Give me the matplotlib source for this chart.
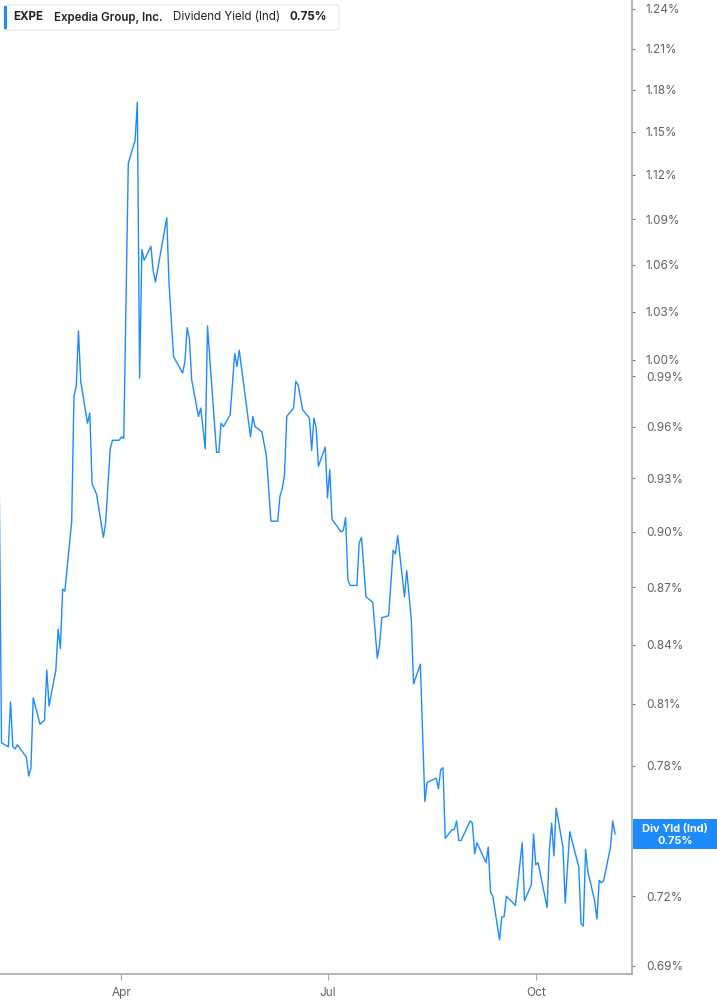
import pandas as pd
import matplotlib.pyplot as plt
from matplotlib.patches import FancyBboxPatch, Rectangle
from matplotlib.ticker import FixedLocator, NullLocator

plt.rcParams['font.family'] = ['Inter', 'DejaVu Sans']

# EXPE dividend yield (ind), %
dates = [
    '2025-02-06', '2025-02-07', '2025-02-10', '2025-02-11', '2025-02-12', '2025-02-13', '2025-02-14',
    '2025-02-18', '2025-02-19', '2025-02-20', '2025-02-21', '2025-02-24', '2025-02-26', '2025-02-27',
    '2025-02-28', '2025-03-03', '2025-03-04', '2025-03-05', '2025-03-06', '2025-03-07', '2025-03-10',
    '2025-03-11', '2025-03-12', '2025-03-13', '2025-03-14', '2025-03-17', '2025-03-18', '2025-03-19',
    '2025-03-21', '2025-03-24', '2025-03-25', '2025-03-27', '2025-03-28', '2025-03-31', '2025-04-01',
    '2025-04-02', '2025-04-04', '2025-04-07', '2025-04-08', '2025-04-09', '2025-04-10', '2025-04-11',
    '2025-04-14', '2025-04-15', '2025-04-16', '2025-04-21', '2025-04-22', '2025-04-24', '2025-04-28',
    '2025-04-29', '2025-04-30', '2025-05-01', '2025-05-02', '2025-05-05', '2025-05-06', '2025-05-08',
    '2025-05-09', '2025-05-10', '2025-05-13', '2025-05-14', '2025-05-15', '2025-05-16', '2025-05-19',
    '2025-05-21', '2025-05-22', '2025-05-23', '2025-05-28', '2025-05-29', '2025-05-30', '2025-06-02',
    '2025-06-04', '2025-06-06', '2025-06-09', '2025-06-10', '2025-06-11', '2025-06-12', '2025-06-13',
    '2025-06-16', '2025-06-17', '2025-06-18', '2025-06-20', '2025-06-23', '2025-06-24', '2025-06-25',
    '2025-06-26', '2025-06-27', '2025-06-30', '2025-07-01', '2025-07-02', '2025-07-03', '2025-07-07',
    '2025-07-08', '2025-07-09', '2025-07-10', '2025-07-11', '2025-07-14', '2025-07-15', '2025-07-16',
    '2025-07-18', '2025-07-21', '2025-07-23', '2025-07-24', '2025-07-25', '2025-07-28', '2025-07-30',
    '2025-07-31', '2025-08-01', '2025-08-04', '2025-08-05', '2025-08-07', '2025-08-08', '2025-08-11',
    '2025-08-13', '2025-08-14', '2025-08-18', '2025-08-19', '2025-08-20', '2025-08-21', '2025-08-22',
    '2025-08-25', '2025-08-26', '2025-08-27', '2025-08-28', '2025-08-29', '2025-09-02', '2025-09-03',
    '2025-09-04', '2025-09-05', '2025-09-09', '2025-09-10', '2025-09-11', '2025-09-12', '2025-09-15',
    '2025-09-16', '2025-09-17', '2025-09-18', '2025-09-22', '2025-09-25', '2025-09-26', '2025-09-29',
    '2025-09-30', '2025-10-01', '2025-10-02', '2025-10-06', '2025-10-07', '2025-10-08', '2025-10-09',
    '2025-10-10', '2025-10-13', '2025-10-14', '2025-10-16', '2025-10-20', '2025-10-21', '2025-10-22',
    '2025-10-23', '2025-10-24', '2025-10-27', '2025-10-28', '2025-10-29', '2025-10-30', '2025-10-31',
    '2025-11-03', '2025-11-04', '2025-11-05',
]
yield_pct = [
    0.927, 0.791, 0.789, 0.811, 0.789, 0.788, 0.790,
    0.784, 0.775, 0.779, 0.813, 0.800, 0.802, 0.827,
    0.809, 0.827, 0.848, 0.838, 0.869, 0.868, 0.906,
    0.978, 0.984, 1.018, 0.987, 0.962, 0.968, 0.927,
    0.921, 0.897, 0.905, 0.947, 0.952, 0.952, 0.954,
    0.953, 1.128, 1.144, 1.171, 0.989, 1.070, 1.063,
    1.072, 1.056, 1.049, 1.091, 1.048, 1.002, 0.992,
    0.999, 1.020, 1.013, 0.988, 0.966, 0.971, 0.947,
    1.021, 1.001, 0.945, 0.945, 0.962, 0.960, 0.967,
    1.004, 0.996, 1.006, 0.954, 0.966, 0.960, 0.957,
    0.943, 0.906, 0.906, 0.920, 0.924, 0.932, 0.966,
    0.971, 0.987, 0.985, 0.970, 0.965, 0.946, 0.965,
    0.959, 0.937, 0.948, 0.919, 0.935, 0.907, 0.900,
    0.901, 0.908, 0.874, 0.871, 0.871, 0.894, 0.897,
    0.865, 0.862, 0.833, 0.840, 0.854, 0.855, 0.890,
    0.888, 0.898, 0.865, 0.879, 0.853, 0.820, 0.830,
    0.763, 0.772, 0.774, 0.769, 0.778, 0.779, 0.746,
    0.750, 0.750, 0.754, 0.745, 0.745, 0.754, 0.753,
    0.739, 0.744, 0.735, 0.742, 0.722, 0.720, 0.701,
    0.711, 0.711, 0.720, 0.716, 0.744, 0.718, 0.725,
    0.748, 0.734, 0.735, 0.715, 0.741, 0.753, 0.738,
    0.760, 0.742, 0.717, 0.749, 0.733, 0.708, 0.707,
    0.741, 0.731, 0.718, 0.710, 0.727, 0.726, 0.727,
    0.742, 0.754, 0.748,
]
ytick_values = [0.69, 0.72, 0.75, 0.78, 0.81, 0.84, 0.87, 0.90, 0.93, 0.96, 0.99,
                1.00, 1.03, 1.06, 1.09, 1.12, 1.15, 1.18, 1.21, 1.24]
xtick_dates = ['2025-04-01', '2025-07-01', '2025-10-01']
xtick_labels = ['Apr', 'Jul', 'Oct']

ticker = 'EXPE'
company = 'Expedia Group, Inc.'
metric = 'Dividend Yield (Ind)'
last_label = '0.75%'

blue = '#1e8bfa'
axis_gray = '#a8a8a8'
text_gray = '#5f6368'

df = pd.DataFrame({'date': pd.to_datetime(dates), 'value': yield_pct})

fig = plt.figure(figsize=(7.17, 10.05), dpi=100)
ax = fig.add_axes([0, 0.0308, 632 / 717, 0.9692])

ax.plot(df['date'], df['value'], color=blue, lw=1.0)

ax.set_yscale('log')
ax.set_ylim(0.6865, 1.2467)
ax.set_xlim(pd.Timestamp('2025-02-06 08:00'), pd.Timestamp('2025-11-12 12:00'))

ax.yaxis.tick_right()
ax.yaxis.set_major_locator(FixedLocator(ytick_values))
ax.yaxis.set_minor_locator(NullLocator())
ax.set_yticklabels(['' if v == 0.75 else f'{v:.2f}%' for v in ytick_values])

ax.set_xticks(pd.to_datetime(xtick_dates))
ax.set_xticklabels(xtick_labels)
ax.xaxis.set_minor_locator(NullLocator())

ax.tick_params(axis='y', length=2, width=0.8, color='#777777', pad=8,
               labelsize=8.5, labelcolor=text_gray)
ax.tick_params(axis='x', length=4, width=0.8, color=axis_gray, pad=5,
               labelsize=8.5, labelcolor=text_gray)

for side in ['left', 'top']:
    ax.spines[side].set_visible(False)
for side in ['right', 'bottom']:
    ax.spines[side].set_color(axis_gray)
    ax.spines[side].set_linewidth(1.2)

# header box top left
box = FancyBboxPatch((4 / 717, 1 - 30 / 1005), 335 / 717, 25 / 1005,
                     boxstyle='round,pad=0,rounding_size=0.004',
                     transform=fig.transFigure, facecolor='white',
                     edgecolor='#e6e6e6', lw=0.8, zorder=5)
fig.patches.append(box)
fig.patches.append(Rectangle((4 / 717, 1 - 29 / 1005), 3 / 717, 23 / 1005,
                             transform=fig.transFigure, facecolor=blue,
                             edgecolor='none', zorder=6))
ty = 1 - 17.5 / 1005
fig.text(13 / 717, ty, ticker, fontsize=8.3, fontweight='bold', color='#222222',
         va='center', zorder=7)
fig.text(54 / 717, ty, company, fontsize=8.3, fontweight='semibold', color='#222222',
         va='center', zorder=7)
fig.text(173 / 717, ty, metric, fontsize=8.3, color='#222222', va='center', zorder=7)
fig.text(290 / 717, ty, last_label, fontsize=8.3, fontweight='bold', color='#222222',
         va='center', zorder=7)

# last value badge on the right axis
last_val = df['value'].iloc[-1]
yb = ax.transData.transform((0, last_val))[1]
badge_y = fig.transFigure.inverted().transform((0, yb))[1]
fig.patches.append(Rectangle((633 / 717, badge_y - 15 / 1005), 84 / 717, 30 / 1005,
                             transform=fig.transFigure, facecolor=blue,
                             edgecolor='none', zorder=6))
fig.text(675 / 717, badge_y + 4.5 / 1005, 'Div Yld (Ind)', fontsize=7.9,
         fontweight='bold', color='white', ha='center', va='center', zorder=7)
fig.text(675 / 717, badge_y - 7 / 1005, last_label, fontsize=7.9,
         fontweight='bold', color='white', ha='center', va='center', zorder=7)

fig.savefig('out.png', dpi=100, facecolor='white')
